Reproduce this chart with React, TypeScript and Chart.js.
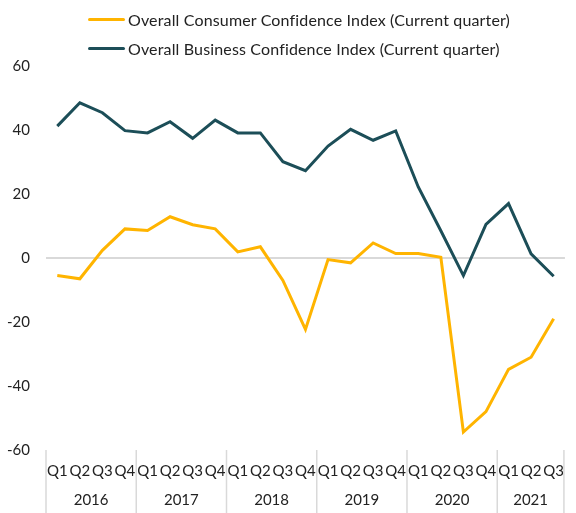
import React, { useEffect, useRef } from "react";
import { Chart, registerables } from "chart.js";

Chart.register(...registerables);

const quarters = [
  "Q1", "Q2", "Q3", "Q4",
  "Q1", "Q2", "Q3", "Q4",
  "Q1", "Q2", "Q3", "Q4",
  "Q1", "Q2", "Q3", "Q4",
  "Q1", "Q2", "Q3", "Q4",
  "Q1", "Q2", "Q3",
];
const years = ["2016", "2017", "2018", "2019", "2020", "2021"];
const quartersPerYear = [4, 4, 4, 4, 4, 3];

const consumerLabel = "Overall Consumer Confidence Index (Current quarter)";
const businessLabel = "Overall Business Confidence Index (Current quarter)";

const consumer = [
  -5.5, -6.5, 2.4, 9.1, 8.6, 12.9, 10.4, 9.1, 1.9, 3.5, -7.0, -22.3,
  -0.5, -1.5, 4.7, 1.4, 1.4, 0.2, -54.4, -48.0, -34.8, -31.0, -19.0,
];
const business = [
  41.2, 48.5, 45.4, 39.8, 39.1, 42.6, 37.4, 43.1, 39.1, 39.1, 30.1, 27.3,
  35.0, 40.2, 36.8, 39.7, 22.2, 8.5, -5.5, 10.5, 17.0, 1.3, -5.7,
];

const yMin = -60;
const yMax = 60;
const yStep = 20;

const YELLOW = "#FFB400";
const TEAL = "#1C4E58";
const TEXT = "#222222";
const RULE = "#D9D9D9";
const FONT = "Lato, 'Open Sans', sans-serif";

const yearPlugin = {
  id: "yearGroups",
  afterDraw(chart: any) {
    const { ctx, chartArea, scales } = chart;
    const x = scales.x;
    const top = chartArea.bottom;
    const bottom = chart.height;
    ctx.save();
    ctx.strokeStyle = RULE;
    ctx.lineWidth = 1.5;
    const bounds: number[] = [chartArea.left];
    let idx = 0;
    quartersPerYear.forEach((n, k) => {
      idx += n;
      if (k === quartersPerYear.length - 1) bounds.push(chartArea.right - 1);
      else bounds.push((x.getPixelForValue(idx - 1) + x.getPixelForValue(idx)) / 2);
    });
    bounds.forEach((b) => {
      ctx.beginPath();
      ctx.moveTo(b, top);
      ctx.lineTo(b, bottom);
      ctx.stroke();
    });
    ctx.fillStyle = TEXT;
    ctx.font = `15px ${FONT}`;
    ctx.textAlign = "center";
    ctx.textBaseline = "middle";
    years.forEach((yr, k) => {
      ctx.fillText(yr, (bounds[k] + bounds[k + 1]) / 2, 500);
    });
    ctx.restore();
  },
};

export default function App() {
  const ref = useRef<HTMLCanvasElement>(null);

  useEffect(() => {
    if (!ref.current) return;
    const chart = new Chart(ref.current, {
      type: "line",
      data: {
        labels: quarters,
        datasets: [
          {
            label: consumerLabel,
            data: consumer,
            borderColor: YELLOW,
            backgroundColor: YELLOW,
            borderWidth: 3,
            pointRadius: 0,
            tension: 0,
          },
          {
            label: businessLabel,
            data: business,
            borderColor: TEAL,
            backgroundColor: TEAL,
            borderWidth: 3,
            pointRadius: 0,
            tension: 0,
          },
        ],
      },
      options: {
        responsive: false,
        animation: false,
        layout: { padding: { top: 66, right: 0, left: 0, bottom: 0 } },
        plugins: {
          legend: { display: false },
          tooltip: { enabled: false },
        },
        scales: {
          x: {
            type: "category",
            offset: true,
            grid: { display: false, drawTicks: false },
            border: { display: false },
            ticks: {
              autoSkip: false,
              maxRotation: 0,
              minRotation: 0,
              padding: 12,
              color: TEXT,
              font: { family: FONT, size: 15 },
            },
            afterFit: (s: any) => {
              s.height = 63;
            },
          },
          y: {
            min: yMin,
            max: yMax,
            grid: {
              drawTicks: false,
              lineWidth: 2,
              color: (c: any) => (c.tick && c.tick.value === 0 ? RULE : "rgba(0,0,0,0)"),
            },
            border: { display: false },
            ticks: {
              stepSize: yStep,
              padding: 16,
              color: TEXT,
              font: { family: FONT, size: 15 },
            },
            afterFit: (s: any) => {
              s.width = 46;
            },
          },
        },
      },
      plugins: [yearPlugin],
    });
    return () => chart.destroy();
  }, []);

  const legendItems = [
    { label: consumerLabel, color: YELLOW, y: 19 },
    { label: businessLabel, color: TEAL, y: 48 },
  ];

  return (
    <div style={{ position: "absolute", left: 0, top: 0, width: 576, height: 513, background: "#fff" }}>
      <canvas ref={ref} width={576} height={513} style={{ display: "block", width: 576, height: 513 }} />
      {legendItems.map((it) => (
        <div
          key={it.label}
          style={{
            position: "absolute",
            left: 88,
            top: it.y - 11,
            height: 22,
            display: "flex",
            alignItems: "center",
            fontFamily: FONT,
            fontSize: 16,
            letterSpacing: 0.15,
            color: TEXT,
            whiteSpace: "nowrap",
          }}
        >
          <span style={{ display: "inline-block", width: 37, height: 3, background: it.color, borderRadius: 1.5, marginRight: 3 }} />
          <span>{it.label}</span>
        </div>
      ))}
    </div>
  );
}
